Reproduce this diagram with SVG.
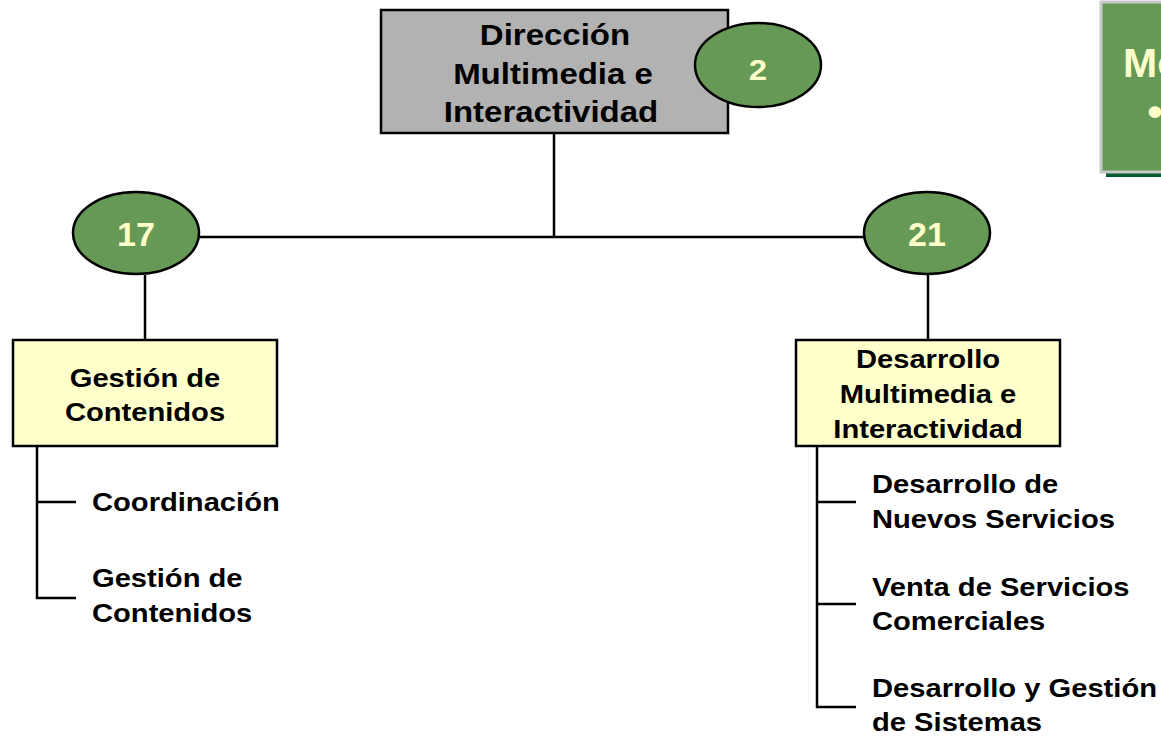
<svg xmlns="http://www.w3.org/2000/svg" width="1161" height="736" viewBox="0 0 1161 736">
<style>
.t{font-family:"Liberation Sans",Arial,sans-serif;font-weight:bold;fill:#000}
.n{font-family:"Liberation Sans",Arial,sans-serif;font-weight:bold;fill:#ffffcc}
.c{text-anchor:middle}
.ln{stroke:#000;stroke-width:2.5;fill:none}
.box{stroke:#000;stroke-width:2.5}
.ell{fill:#669955;stroke:#000;stroke-width:2.5}
</style>
<rect width="1161" height="736" fill="#fff"/>
<g id="side-panel">
<rect x="1106" y="172" width="60" height="5" fill="#005a2b"/>
<rect x="1101" y="2" width="64" height="170" fill="#669955" stroke="#c8c8c8" stroke-width="3"/>
<text class="n" font-size="41" x="1123" y="77">Mo</text>
<text class="n c" font-size="40" transform="translate(1155,126) scale(1.1,1)">•</text>
</g>
<g id="connectors">
<line class="ln" x1="554" y1="133" x2="554" y2="237"/>
<line class="ln" x1="199" y1="237" x2="865" y2="237"/>
<line class="ln" x1="145" y1="275" x2="145" y2="340"/>
<line class="ln" x1="928" y1="275" x2="928" y2="340"/>
<polyline class="ln" points="37,446 37,598 76,598"/>
<line class="ln" x1="37" y1="502" x2="76" y2="502"/>
<polyline class="ln" points="817,446 817,707 856,707"/>
<line class="ln" x1="817" y1="502" x2="856" y2="502"/>
<line class="ln" x1="817" y1="604" x2="856" y2="604"/>
</g>
<g id="direccion">
<rect class="box" x="381" y="10" width="347" height="123" fill="#b2b2b2"/>
<text class="t c" font-size="30" transform="translate(555,45) scale(1.1,1)">Dirección</text>
<text class="t c" font-size="30" transform="translate(553,84) scale(1.1,1)">Multimedia e</text>
<text class="t c" font-size="30" transform="translate(551,122) scale(1.1,1)">Interactividad</text>
</g>
<g id="badge-2">
<ellipse class="ell" cx="758" cy="65" rx="63" ry="42"/>
<text class="n c" font-size="30" transform="translate(758,80) scale(1.1,1)">2</text>
</g>
<g id="badge-17">
<ellipse class="ell" cx="136" cy="233" rx="63" ry="41"/>
<text class="n c" font-size="34" transform="translate(136,246)">17</text>
</g>
<g id="badge-21">
<ellipse class="ell" cx="927" cy="233" rx="63" ry="41"/>
<text class="n c" font-size="34" transform="translate(927,246)">21</text>
</g>
<g id="gestion">
<rect class="box" x="13" y="340" width="264" height="106" fill="#ffffcc"/>
<text class="t c" font-size="26.5" transform="translate(145,387) scale(1.1,1)">Gestión de</text>
<text class="t c" font-size="26.5" transform="translate(145,421) scale(1.1,1)">Contenidos</text>
</g>
<g id="desarrollo">
<rect class="box" x="796" y="340" width="264" height="106" fill="#ffffcc"/>
<text class="t c" font-size="26.5" transform="translate(928,368) scale(1.1,1)">Desarrollo</text>
<text class="t c" font-size="26.5" transform="translate(928,403) scale(1.1,1)">Multimedia e</text>
<text class="t c" font-size="26.5" transform="translate(928,438) scale(1.1,1)">Interactividad</text>
</g>
<g id="item-coordinacion">
<text class="t" font-size="26.5" transform="translate(92,511) scale(1.1,1)">Coordinación</text>
</g>
<g id="item-gestion">
<text class="t" font-size="26.5" transform="translate(92,587) scale(1.1,1)">Gestión de</text>
<text class="t" font-size="26.5" transform="translate(92,622) scale(1.1,1)">Contenidos</text>
</g>
<g id="item-nuevos">
<text class="t" font-size="26.5" transform="translate(872,493) scale(1.1,1)">Desarrollo de</text>
<text class="t" font-size="26.5" transform="translate(872,528) scale(1.1,1)">Nuevos Servicios</text>
</g>
<g id="item-venta">
<text class="t" font-size="26.5" transform="translate(872,596) scale(1.1,1)">Venta de Servicios</text>
<text class="t" font-size="26.5" transform="translate(872,630) scale(1.1,1)">Comerciales</text>
</g>
<g id="item-sistemas">
<text class="t" font-size="26.5" transform="translate(872,697) scale(1.1,1)">Desarrollo y Gestión</text>
<text class="t" font-size="26.5" transform="translate(872,731) scale(1.1,1)">de Sistemas</text>
</g>
</svg>
